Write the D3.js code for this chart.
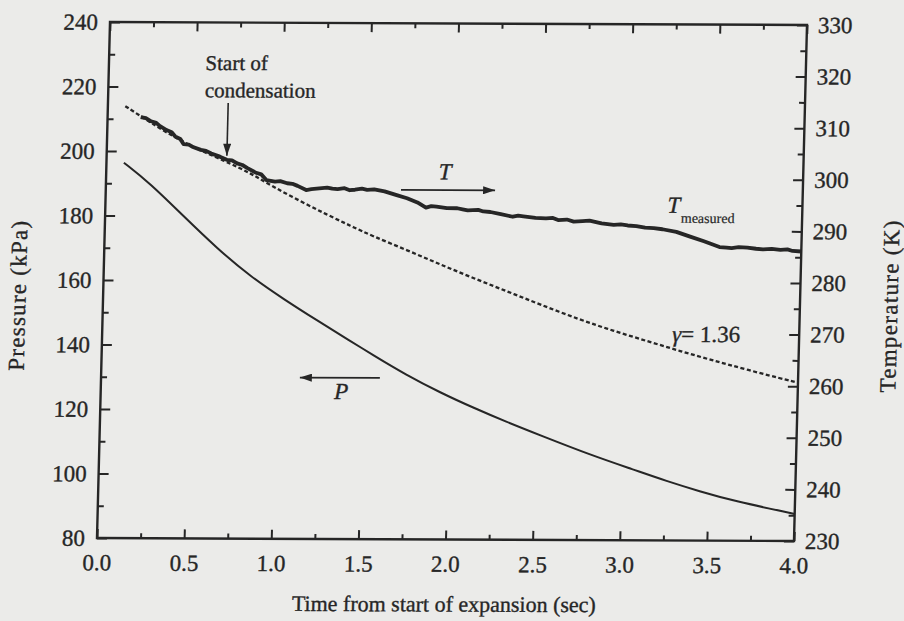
<!DOCTYPE html>
<html>
<head>
<meta charset="utf-8">
<script src="https://cdn.jsdelivr.net/npm/d3@7"></script>
<style>
  body { margin: 0; background: #ebebe9; }
  svg text { font-family: "Liberation Serif", "DejaVu Serif", serif; fill: #262626; stroke: #262626; stroke-width: 0.35px; }
</style>
</head>
<body>
<div id="chart"></div>
<script>
// pressure (left axis, kPa)
const pTime = [0.10, 0.25, 0.45, 0.65, 0.84, 1.04, 1.23, 1.42, 1.56, 1.75, 1.95, 2.14, 2.33, 2.53, 2.82, 3.07, 3.26, 3.45, 3.65, 4.00];
const pressure = [196.4, 190.2, 179.9, 169.8, 161.4, 154.2, 147.8, 141.6, 137.0, 131.0, 125.5, 120.9, 116.6, 112.4, 106.4, 101.9, 98.4, 95.3, 92.3, 88.4];

// isentropic temperature, gamma = 1.36 (right axis, K)
const gammaTime = [0.10, 0.24, 0.44, 0.69, 0.83, 0.96, 1.12, 1.27, 1.41, 1.54, 1.74, 1.93, 2.12, 2.32, 2.51, 2.74, 2.93, 3.13, 3.32, 3.51, 3.70, 3.97, 4.00];
const gammaTemp = [313.7, 310.7, 306.6, 303.0, 300.8, 298.2, 295.4, 292.9, 290.7, 288.7, 286.0, 283.3, 280.7, 278.1, 275.6, 272.7, 270.6, 268.6, 266.7, 264.9, 263.2, 260.9, 260.7];

// measured temperature (right axis, K)
const tTime = [0.19, 0.22, 0.25, 0.28, 0.30, 0.34, 0.37, 0.39, 0.42, 0.44, 0.47, 0.49, 0.54, 0.57, 0.60, 0.65, 0.69, 0.72, 0.75, 0.78, 0.81, 0.86, 0.89, 0.92, 0.97, 1.00, 1.04, 1.07, 1.10, 1.15, 1.18, 1.21,
               1.27, 1.30, 1.33, 1.37, 1.40, 1.43, 1.47, 1.50, 1.54, 1.60, 1.67, 1.73, 1.79, 1.84, 1.87, 1.90, 1.96, 2.02, 2.05, 2.08, 2.14, 2.17, 2.21, 2.27, 2.34, 2.37, 2.40, 2.47,
               2.53, 2.57, 2.60, 2.65, 2.69, 2.74, 2.78, 2.85, 2.92, 2.96, 3.00, 3.05, 3.10, 3.15, 3.20, 3.28, 3.36, 3.44, 3.53, 3.57, 3.60, 3.64, 3.69, 3.74, 3.78, 3.83, 3.88, 3.92, 3.95, 4.00];
const tMeasured = [311.6, 311.4, 310.8, 310.5, 309.9, 309.1, 308.7, 307.9, 307.4, 306.4, 306.3, 305.9, 305.3, 305.1, 304.6, 304.0, 303.4, 303.3, 302.7, 302.4, 301.8, 300.9, 300.6, 299.5, 299.2, 299.3, 298.9, 298.8, 298.4, 297.6, 297.8, 297.9,
                   298.1, 297.9, 297.8, 298.0, 297.6, 297.7, 297.9, 297.7, 297.8, 297.4, 296.7, 296.1, 295.3, 294.3, 294.6, 294.5, 294.2, 294.2, 294.0, 293.8, 293.9, 293.6, 293.5, 293.1, 292.6, 292.8, 292.7, 292.4,
                   292.3, 292.4, 292.0, 292.1, 291.7, 291.8, 291.9, 291.4, 291.1, 291.2, 291.0, 290.9, 290.6, 290.5, 290.3, 289.8, 288.9, 288.0, 286.9, 286.8, 286.7, 286.9, 286.8, 286.6, 286.5, 286.6, 286.4, 286.5, 286.2, 286.1];

const timeTicks = [0, 0.5, 1, 1.5, 2, 2.5, 3, 3.5, 4];
const timeMinor = [0.25, 0.75, 1.25, 1.75, 2.25, 2.75, 3.25, 3.75];
const pressureTicks = [80, 100, 120, 140, 160, 180, 200, 220, 240];
const pressureMinor = [90, 110, 130, 150, 170, 190, 210, 230];
const tempTicks = [230, 240, 250, 260, 270, 280, 290, 300, 310, 320, 330];
const tempMinor = [235, 245, 255, 265, 275, 285, 295, 305, 315, 325];

const width = 904, height = 621;
const W = 697, H = 516;
const ink = '#262626';

const svg = d3.select('#chart').append('svg')
    .attr('width', width)
    .attr('height', height);

svg.append('rect').attr('width', width).attr('height', height).attr('fill', '#ebebe9');

// arrow heads
const defs = svg.append('defs');
defs.append('marker')
    .attr('id', 'head')
    .attr('viewBox', '0 0 12 8')
    .attr('refX', 12).attr('refY', 4)
    .attr('markerWidth', 14).attr('markerHeight', 8)
    .attr('markerUnits', 'userSpaceOnUse')
    .attr('orient', 'auto')
    .append('path')
    .attr('d', 'M0,0 L12,4 L0,8 Z')
    .attr('fill', ink);

// the scanned figure is slightly sheared, so the plot frame is too
const g = svg.append('g')
    .attr('transform', 'matrix(1,0.0043,-0.0252,1,110,22)');

const x = d3.scaleLinear().domain([0, 4]).range([0, W]);
const yP = d3.scaleLinear().domain([80, 240]).range([H, 0]);
const yT = d3.scaleLinear().domain([230, 330]).range([H, 0]);

// axes
function styleAxis(sel) {
    sel.select('.domain').remove();
    sel.selectAll('.tick line').attr('stroke', ink).attr('stroke-width', 2);
    sel.selectAll('.tick text').style('font-size', '23px');
}

g.append('g').attr('transform', `translate(0,${H})`)
    .call(d3.axisBottom(x).tickValues(timeTicks).tickSize(-9).tickPadding(16).tickFormat(d3.format('.1f')))
    .call(styleAxis);
g.append('g').attr('transform', `translate(0,${H})`)
    .call(d3.axisBottom(x).tickValues(timeMinor).tickSize(-5).tickFormat(''))
    .call(styleAxis);
g.append('g')
    .call(d3.axisTop(x).tickValues(timeTicks).tickSize(-9).tickFormat(''))
    .call(styleAxis);
g.append('g')
    .call(d3.axisTop(x).tickValues(timeMinor).tickSize(-5).tickFormat(''))
    .call(styleAxis);

g.append('g')
    .call(d3.axisLeft(yP).tickValues(pressureTicks).tickSize(-10).tickPadding(12))
    .call(styleAxis);
g.append('g')
    .call(d3.axisLeft(yP).tickValues(pressureMinor).tickSize(-6).tickFormat(''))
    .call(styleAxis);

g.append('g').attr('transform', `translate(${W},0)`)
    .call(d3.axisRight(yT).tickValues(tempTicks).tickSize(-10).tickPadding(11))
    .call(styleAxis);
g.append('g').attr('transform', `translate(${W},0)`)
    .call(d3.axisRight(yT).tickValues(tempMinor).tickSize(-6).tickFormat(''))
    .call(styleAxis);

g.append('rect')
    .attr('width', W).attr('height', H)
    .attr('fill', 'none')
    .attr('stroke', ink)
    .attr('stroke-width', 2.4);

// axis titles
g.append('text')
    .attr('transform', `translate(${-85},${yP(155)}) rotate(-90)`)
    .attr('text-anchor', 'middle')
    .attr('dominant-baseline', 'central')
    .attr('textLength', 150)
    .style('font-size', '23px')
    .text('Pressure (kPa)');

g.append('text')
    .attr('transform', `translate(${W + 90},${yT(275.5)}) rotate(-90)`)
    .attr('text-anchor', 'middle')
    .attr('dominant-baseline', 'central')
    .attr('textLength', 172)
    .style('font-size', '23px')
    .text('Temperature (K)');

g.append('text')
    .attr('x', x(2))
    .attr('y', H + 72)
    .attr('text-anchor', 'middle')
    .style('font-size', '22px')
    .text('Time from start of expansion (sec)');

// curves
const pLine = d3.line().x(i => x(pTime[i])).y(i => yP(pressure[i])).curve(d3.curveBasis);
const gLine = d3.line().x(i => x(gammaTime[i])).y(i => yT(gammaTemp[i])).curve(d3.curveBasis);
const tLine = d3.line().x(i => x(tTime[i])).y(i => yT(tMeasured[i])).curve(d3.curveLinear);

g.append('path')
    .attr('d', pLine(d3.range(pTime.length)))
    .attr('fill', 'none')
    .attr('stroke', ink)
    .attr('stroke-width', 2);

g.append('path')
    .attr('d', gLine(d3.range(gammaTime.length)))
    .attr('fill', 'none')
    .attr('stroke', ink)
    .attr('stroke-width', 2.3)
    .attr('stroke-dasharray', '4,2.5');

g.append('path')
    .attr('d', tLine(d3.range(tTime.length)))
    .attr('fill', 'none')
    .attr('stroke', ink)
    .attr('stroke-width', 3.8)
    .attr('stroke-linejoin', 'round');

// annotations
g.append('text').attr('x', x(0.554)).attr('y', yT(320.8)).style('font-size', '21px').text('Start of');
g.append('text').attr('x', x(0.554)).attr('y', yT(315.5)).style('font-size', '21px').text('condensation');
g.append('line')
    .attr('x1', x(0.69)).attr('y1', yT(314.4))
    .attr('x2', x(0.69)).attr('y2', yT(304.2))
    .attr('stroke', ink).attr('stroke-width', 1.6)
    .attr('marker-end', 'url(#head)');

g.append('text').attr('x', x(1.945)).attr('y', yT(299.8))
    .attr('text-anchor', 'middle')
    .style('font-size', '23px').style('font-style', 'italic')
    .text('T');
g.append('line')
    .attr('x1', x(1.694)).attr('y1', yT(297.7))
    .attr('x2', x(2.234)).attr('y2', yT(297.7))
    .attr('stroke', ink).attr('stroke-width', 1.8)
    .attr('marker-end', 'url(#head)');

const tm = g.append('text').attr('x', x(3.225)).attr('y', yT(293.5)).style('font-size', '23px');
tm.append('tspan').style('font-style', 'italic').text('T');
tm.append('tspan').attr('dx', 1).attr('dy', 10).style('font-size', '14px').style('stroke-width', '0.2px').text('measured');

const gl = g.append('text').attr('x', x(3.271)).attr('y', yT(268.5)).style('font-size', '23px');
gl.append('tspan').style('font-style', 'italic').text('γ');
gl.append('tspan').text('= 1.36');

g.append('text').attr('x', x(1.34)).attr('y', yP(123.4))
    .style('font-size', '23px').style('font-style', 'italic')
    .text('P');
g.append('line')
    .attr('x1', x(1.6)).attr('y1', yP(130))
    .attr('x2', x(1.141)).attr('y2', yP(130))
    .attr('stroke', ink).attr('stroke-width', 1.8)
    .attr('marker-end', 'url(#head)');
</script>
</body>
</html>
